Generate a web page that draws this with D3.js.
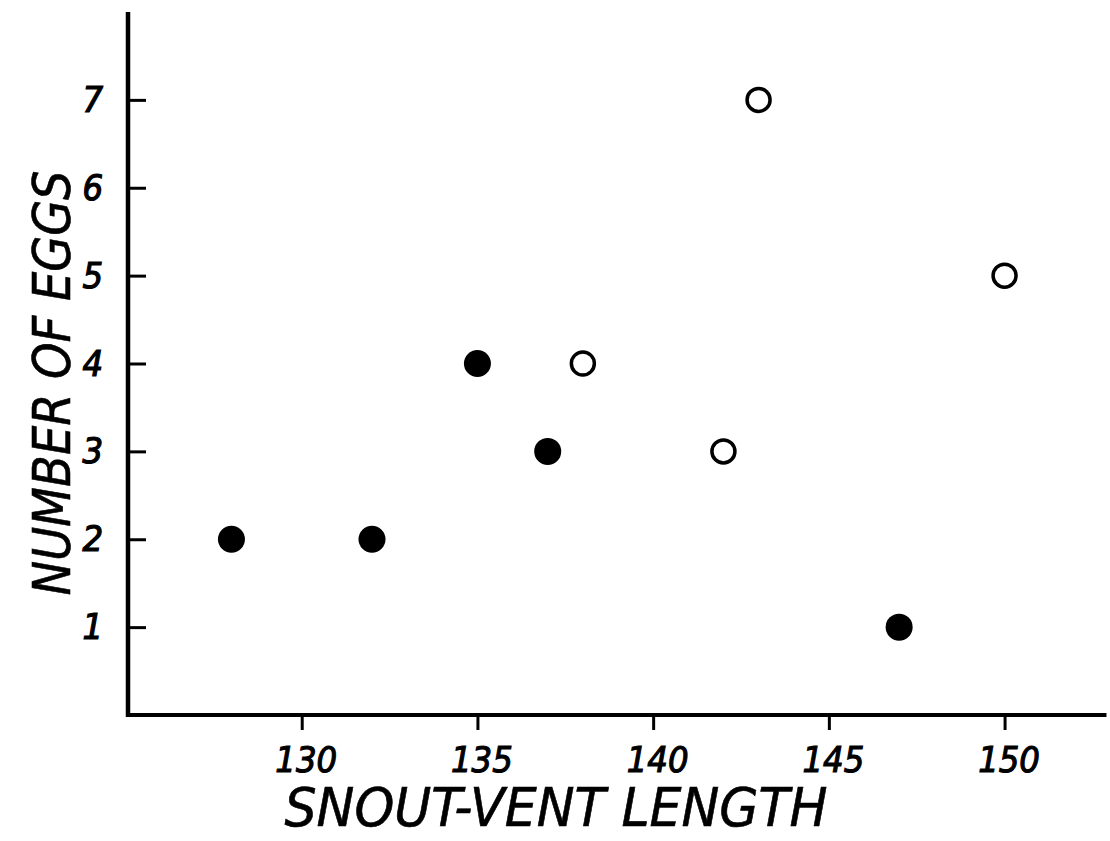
<!DOCTYPE html>
<html>
<head>
<meta charset="utf-8">
<script src="https://cdn.jsdelivr.net/npm/d3@7"></script>
<style>
  html, body { margin: 0; padding: 0; background: #fff; }
  svg { display: block; }
  text { font-family: "DejaVu Sans Condensed", "DejaVu Sans", sans-serif; font-style: italic; fill: #000; }
</style>
</head>
<body>
<script>
// Data
const filledLength = [128, 132, 135, 137, 147];
const filledEggs   = [2, 2, 4, 3, 1];
const openLength   = [138, 142, 143, 150];
const openEggs     = [4, 3, 7, 5];
const xTicks = [130, 135, 140, 145, 150];
const yTicks = [1, 2, 3, 4, 5, 6, 7];
const xTitle = "SNOUT-VENT LENGTH";
const yTitle = "NUMBER OF EGGS";

const W = 1110, H = 841;
const svg = d3.select("body").append("svg").attr("width", W).attr("height", H);

const x = d3.scaleLinear().domain([125, 153]).range([126, 1110]);
const y = d3.scaleLinear().domain([0, 8]).range([715, 12]);

const axisX = 128, axisY = 715;

// x axis
const gx = svg.append("g").attr("transform", `translate(0,${axisY})`)
  .call(d3.axisBottom(x).tickValues(xTicks).tickSize(15).tickPadding(16).tickFormat(d3.format("d")));
gx.select(".domain").remove();
gx.selectAll(".tick line").attr("stroke", "#000").attr("stroke-width", 3);
gx.selectAll(".tick text").attr("font-size", 36).attr("dy", "0.71em").attr("dx", 4)
  .attr("stroke", "#000").attr("stroke-width", 1.1).style("font-family", null);

// y axis
const gy = svg.append("g").attr("transform", `translate(${axisX},0)`)
  .call(d3.axisLeft(y).tickValues(yTicks).tickSize(-18).tickPadding(25).tickFormat(d3.format("d")));
gy.select(".domain").remove();
gy.selectAll(".tick line").attr("stroke", "#000").attr("stroke-width", 3);
gy.selectAll(".tick text").attr("font-size", 36)
  .attr("stroke", "#000").attr("stroke-width", 1.2).style("font-family", null);

// axis lines
svg.append("line").attr("x1", axisX).attr("x2", axisX).attr("y1", y(8)).attr("y2", axisY + 2)
  .attr("stroke", "#000").attr("stroke-width", 4.5);
svg.append("line").attr("x1", x(125)).attr("x2", x(152.9)).attr("y1", axisY).attr("y2", axisY)
  .attr("stroke", "#000").attr("stroke-width", 4);

// points
const filled = filledLength.map((d, i) => ({ x: d, y: filledEggs[i] }));
const open = openLength.map((d, i) => ({ x: d, y: openEggs[i] }));

svg.append("g").selectAll("circle").data(filled).join("circle")
  .attr("cx", d => x(d.x)).attr("cy", d => y(d.y)).attr("r", 13.5).attr("fill", "#000");

svg.append("g").selectAll("circle").data(open).join("circle")
  .attr("cx", d => x(d.x)).attr("cy", d => y(d.y)).attr("r", 11.5)
  .attr("fill", "none").attr("stroke", "#000").attr("stroke-width", 3.5);

// titles
svg.append("text").attr("x", 556).attr("y", 826).attr("text-anchor", "middle")
  .attr("font-size", 54).attr("textLength", 543).attr("lengthAdjust", "spacingAndGlyphs")
  .attr("stroke", "#000").attr("stroke-width", 0.6)
  .text(xTitle);

svg.append("text").attr("transform", "translate(70,383) rotate(-90)").attr("text-anchor", "middle")
  .attr("font-size", 52).attr("textLength", 425).attr("lengthAdjust", "spacingAndGlyphs")
  .attr("stroke", "#000").attr("stroke-width", 0.6)
  .text(yTitle);
</script>
</body>
</html>
